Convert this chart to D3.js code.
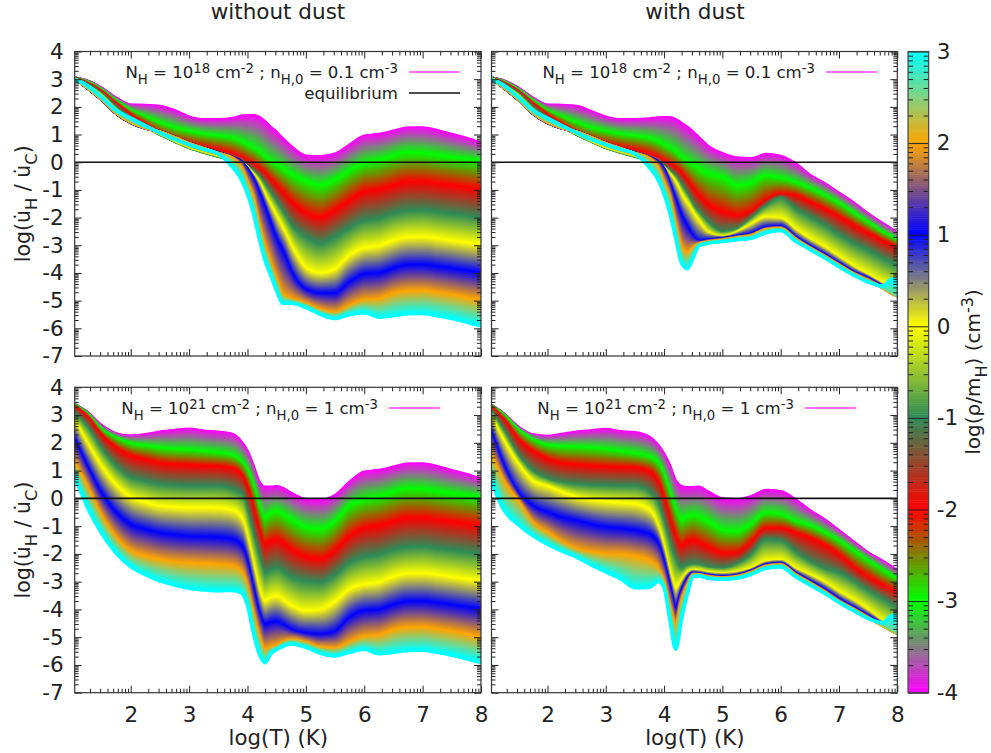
<!DOCTYPE html>
<html>
<head>
<meta charset="utf-8">
<style>
  body { margin: 0; background: #fff; }
  text { font-family: "DejaVu Sans", sans-serif; fill: #222; }
</style>
</head>
<body>
<script src="https://d3js.org/d3.v7.min.js"></script>
<script>
const logT = [1.04,1.25,1.5,1.75,2,2.25,2.5,2.75,3,3.25,3.5,3.75,3.9,4,4.1,4.2,4.3,4.4,4.5,4.6,4.75,5,5.25,5.5,5.75,6,6.25,6.5,6.75,7,7.25,7.5,7.75,7.9,8];

// density levels of the palette and the colour at each one
const rhoLevels = [-4,-3,-2,-1,0,1,2,3];
const rhoColors = ['#ff00ff','#00ff00','#ff0000','#2e8b57','#ffff00','#0000ff','#ffa500','#00ffff'];
// dust panels have one more row, for the wedge at the hot end
const rhoLevelsDust = [-4,-3,-2,-1,0,1,2,2.6,3];

// one row per density level, top row is log rho = -4
const noDust18 = [
  [3.05,2.95,2.69,2.33,2.08,2.07,2.03,1.88,1.65,1.55,1.55,1.6,1.68,1.7,1.7,1.64,1.48,1.28,1.1,.88,.58,.24,.22,.31,.64,.96,1.02,1.14,1.26,1.26,1.16,1.02,.88,.78,.72],
  [3.05,2.9,2.6,2.2,1.85,1.62,1.4,1.22,1.1,1.0,.93,.85,.72,.6,.5,.35,.15,0,-.12,-.25,-.45,-.7,-.85,-.65,-.32,-.06,.05,.22,.34,.32,.24,.16,.09,.05,.02],
  [3.03,2.85,2.55,2.1,1.7,1.35,1.02,.8,.65,.52,.42,.28,.15,.02,-.1,-.25,-.42,-.65,-.88,-1.1,-1.45,-1.85,-2.0,-1.75,-1.4,-1.08,-1.0,-.85,-.72,-.72,-.78,-.85,-.92,-.97,-1.0],
  [3.02,2.8,2.45,1.95,1.55,1.28,1.0,.75,.52,.35,.2,.08,-.02,-.18,-.35,-.55,-.85,-1.15,-1.48,-1.8,-2.3,-2.72,-2.95,-2.72,-2.4,-2.13,-2.05,-1.87,-1.77,-1.75,-1.82,-1.88,-1.95,-2.0,-2.02],
  [3.02,2.75,2.38,1.85,1.48,1.25,1.05,.8,.58,.42,.28,.12,0,-.2,-.45,-.75,-1.2,-1.6,-2.0,-2.4,-3.05,-3.85,-4.03,-3.9,-3.4,-3.12,-3.05,-2.85,-2.73,-2.72,-2.78,-2.85,-2.93,-2.97,-3.0],
  [3.02,2.68,2.25,1.75,1.42,1.22,1.12,.92,.7,.52,.35,.18,.02,-.25,-.6,-1.1,-1.65,-2.25,-2.8,-3.2,-3.98,-4.62,-4.75,-4.75,-4.35,-4.06,-4.02,-3.85,-3.72,-3.72,-3.78,-3.85,-3.93,-3.97,-4.0],
  [3.02,2.7,2.28,1.78,1.45,1.24,1.1,.9,.68,.5,.32,.14,-.2,-.75,-1.3,-2.3,-3.1,-3.7,-4.3,-4.8,-4.95,-5.12,-5.35,-5.45,-5.2,-5.0,-4.95,-4.75,-4.66,-4.65,-4.72,-4.8,-4.9,-4.96,-5.0],
  [3.0,2.78,2.36,1.88,1.6,1.33,1.06,.82,.63,.46,.3,-.2,-.65,-1.15,-1.85,-2.75,-3.55,-4.1,-4.65,-5.1,-5.1,-5.25,-5.5,-5.65,-5.5,-5.44,-5.6,-5.55,-5.48,-5.47,-5.55,-5.65,-5.78,-5.87,-5.92]
];

const dust18 = [
  [3.05,2.95,2.69,2.33,2.08,2.07,2.03,1.85,1.65,1.55,1.55,1.58,1.62,1.63,1.63,1.56,1.42,1.28,1.1,.9,.6,.33,.17,.15,.3,.23,-.03,-.45,-.75,-1.1,-1.45,-1.85,-2.2,-2.4,-2.55],
  [3.05,2.9,2.6,2.2,1.85,1.62,1.4,1.22,1.1,1.0,.93,.85,.72,.6,.5,.35,.15,0,-.12,-.25,-.4,-.55,-.85,-.75,-.5,-.6,-.75,-.95,-1.2,-1.5,-1.85,-2.2,-2.55,-2.72,-2.85],
  [3.03,2.85,2.55,2.1,1.7,1.35,1.02,.8,.65,.52,.42,.28,.15,.02,-.1,-.25,-.42,-.7,-1.0,-1.25,-1.55,-1.8,-1.95,-1.8,-1.4,-1.18,-1.23,-1.47,-1.71,-2.0,-2.3,-2.58,-2.85,-3.0,-3.1],
  [3.02,2.8,2.45,1.95,1.55,1.28,1.0,.75,.52,.35,.2,.08,-.02,-.18,-.35,-.55,-.87,-1.22,-1.6,-1.85,-2.2,-2.55,-2.45,-2.05,-1.6,-1.3,-1.7,-2.0,-2.3,-2.65,-2.95,-3.2,-3.5,-3.65,-3.76],
  [3.02,2.75,2.38,1.85,1.48,1.25,1.05,.8,.58,.42,.28,.12,0,-.2,-.45,-.75,-1.2,-1.5,-1.85,-2.15,-2.55,-2.7,-2.55,-2.25,-2.0,-2.05,-2.45,-2.8,-3.1,-3.45,-3.8,-4.1,-4.4,-4.58,-4.72],
  [3.02,2.68,2.25,1.75,1.42,1.22,1.12,.92,.7,.52,.35,.18,.02,-.25,-.8,-1.4,-1.95,-2.35,-2.7,-2.87,-2.82,-2.76,-2.68,-2.6,-2.38,-2.33,-2.72,-3.05,-3.35,-3.67,-3.98,-4.2,-4.5,-4.68,-4.8],
  [3.02,2.7,2.28,1.78,1.45,1.24,1.1,.9,.68,.5,.32,.14,-.2,-.75,-1.3,-2.3,-3.1,-3.28,-3.1,-2.95,-2.88,-2.82,-2.73,-2.65,-2.43,-2.4,-2.77,-3.1,-3.4,-3.72,-4.03,-4.28,-4.55,-4.75,-4.85],
  [3.01,2.75,2.33,1.84,1.54,1.29,1.08,.85,.65,.48,.31,-.06,-.47,-.99,-1.63,-2.57,-3.43,-3.62,-3.31,-2.99,-2.91,-2.85,-2.77,-2.71,-2.5,-2.44,-2.82,-3.13,-3.43,-3.76,-4.06,-4.31,-4.52,-4.68,-4.82],
  [3.0,2.78,2.36,1.88,1.6,1.33,1.06,.82,.63,.46,.3,-.2,-.65,-1.15,-1.85,-2.75,-3.65,-3.85,-3.45,-3.02,-2.93,-2.87,-2.8,-2.75,-2.55,-2.47,-2.85,-3.15,-3.45,-3.78,-4.08,-4.33,-4.47,-4.22,-4.2]
];

const noDust21 = [
  [3.39,3.12,2.64,2.34,2.26,2.31,2.4,2.46,2.51,2.44,2.4,2.31,2.04,1.72,1.2,.62,.42,.42,.44,.38,.2,-.03,-.06,.12,.6,.96,1.02,1.14,1.26,1.26,1.16,1.02,.88,.78,.72],
  [3.37,3.05,2.46,2.16,1.96,1.88,1.8,1.75,1.72,1.68,1.62,1.52,1.3,.96,.42,-.3,-.72,-.55,-.48,-.58,-.78,-1.05,-1.12,-.85,-.28,-.06,.05,.22,.34,.32,.24,.16,.09,.05,.02],
  [3.3,2.94,2.25,1.8,1.52,1.38,1.25,1.2,1.18,1.15,1.13,1.05,.8,.35,-.4,-1.2,-1.68,-1.55,-1.5,-1.62,-1.85,-2.12,-2.2,-1.9,-1.38,-1.08,-1.0,-.85,-.72,-.72,-.78,-.85,-.92,-.97,-1.0],
  [3.05,2.55,1.75,1.12,.72,.6,.48,.44,.42,.42,.42,.3,.14,-.55,-1.4,-2.15,-2.7,-2.6,-2.52,-2.65,-2.85,-3.0,-3.05,-2.78,-2.35,-2.13,-2.05,-1.87,-1.77,-1.75,-1.82,-1.88,-1.95,-2.0,-2.02],
  [2.75,1.98,1.1,.45,.02,-.17,-.3,-.34,-.36,-.36,-.37,-.45,-.75,-1.5,-2.45,-3.35,-3.72,-3.6,-3.55,-3.68,-3.88,-4.08,-4.03,-3.75,-3.3,-3.12,-3.05,-2.85,-2.73,-2.72,-2.78,-2.85,-2.93,-2.97,-3.0],
  [2.1,1.14,.15,-.54,-.96,-1.13,-1.26,-1.33,-1.38,-1.4,-1.42,-1.5,-1.72,-2.35,-3.3,-4.15,-4.55,-4.48,-4.45,-4.55,-4.75,-4.88,-4.92,-4.82,-4.3,-4.06,-4.02,-3.85,-3.72,-3.72,-3.78,-3.85,-3.93,-3.97,-4.0],
  [1.26,.42,-.66,-1.44,-1.92,-2.1,-2.22,-2.3,-2.34,-2.37,-2.4,-2.46,-2.66,-3.25,-4.2,-5.0,-5.46,-5.38,-5.32,-5.2,-5.1,-5.2,-5.38,-5.42,-5.2,-5.0,-4.95,-4.75,-4.66,-4.65,-4.72,-4.8,-4.9,-4.96,-5.0],
  [.78,-.3,-1.26,-1.98,-2.46,-2.75,-2.97,-3.12,-3.24,-3.3,-3.33,-3.32,-3.42,-3.85,-4.85,-5.6,-5.92,-5.6,-5.45,-5.34,-5.25,-5.37,-5.58,-5.68,-5.55,-5.44,-5.6,-5.55,-5.48,-5.47,-5.55,-5.65,-5.78,-5.87,-5.92]
];

const dust21 = [
  [3.36,3.06,2.58,2.3,2.25,2.32,2.4,2.45,2.5,2.42,2.38,2.22,1.92,1.62,1.2,.65,.44,.4,.41,.42,.25,0,-.03,.08,.3,.26,-.03,-.42,-.75,-1.15,-1.55,-1.95,-2.25,-2.45,-2.59],
  [3.34,3.0,2.46,2.1,1.9,1.85,1.83,1.8,1.75,1.68,1.6,1.47,1.25,.78,.15,-.45,-.78,-.68,-.62,-.68,-.84,-1.15,-1.2,-.95,-.55,-.6,-.85,-1.0,-1.25,-1.55,-1.9,-2.25,-2.6,-2.8,-2.9],
  [3.28,2.82,2.1,1.68,1.4,1.25,1.2,1.15,1.12,1.1,1.08,.95,.55,-.06,-.8,-1.42,-1.74,-1.58,-1.52,-1.62,-1.78,-2.0,-2.0,-1.6,-1.1,-1.1,-1.25,-1.45,-1.7,-2.05,-2.5,-2.85,-3.15,-3.3,-3.43],
  [3.1,2.4,1.5,.95,.68,.55,.48,.45,.44,.42,.42,.2,-.25,-.96,-1.7,-2.25,-2.52,-2.45,-2.4,-2.42,-2.5,-2.55,-2.4,-2.05,-1.5,-1.55,-1.95,-2.3,-2.55,-2.7,-3.0,-3.35,-3.65,-3.85,-3.97],
  [2.9,2.05,1.2,.6,.42,.2,.02,-.08,-.14,-.18,-.22,-.45,-1.1,-1.85,-2.75,-3.25,-3.0,-2.7,-2.6,-2.62,-2.68,-2.72,-2.68,-2.55,-2.3,-2.25,-2.55,-2.78,-3.05,-3.4,-3.7,-4.05,-4.45,-4.62,-4.75],
  [2.35,1.15,.15,-.3,-.52,-.7,-.82,-.95,-1.05,-1.1,-1.17,-1.3,-1.65,-2.35,-3.2,-3.96,-3.35,-2.9,-2.7,-2.72,-2.78,-2.83,-2.78,-2.62,-2.4,-2.35,-2.7,-3.0,-3.3,-3.65,-3.95,-4.25,-4.55,-4.7,-4.8],
  [1.55,.6,-.1,-.9,-1.25,-1.6,-1.85,-1.95,-2.02,-2.03,-2.1,-2.25,-2.55,-3.05,-3.95,-4.56,-3.7,-3.15,-2.75,-2.75,-2.82,-2.87,-2.82,-2.67,-2.45,-2.4,-2.75,-3.05,-3.37,-3.72,-4.0,-4.3,-4.6,-4.78,-4.88],
  [.98,-.01,-.61,-1.17,-1.49,-1.78,-2.01,-2.22,-2.4,-2.55,-2.77,-2.82,-2.82,-3.15,-4.22,-5.1,-4.09,-3.33,-2.79,-2.78,-2.86,-2.9,-2.86,-2.71,-2.49,-2.44,-2.79,-3.09,-3.4,-3.74,-4.03,-4.32,-4.53,-4.7,-4.84],
  [.6,-.42,-.95,-1.35,-1.65,-1.9,-2.12,-2.4,-2.65,-2.9,-3.22,-3.2,-3.0,-3.22,-4.4,-5.44,-4.35,-3.45,-2.82,-2.8,-2.88,-2.92,-2.88,-2.73,-2.52,-2.47,-2.82,-3.12,-3.42,-3.75,-4.05,-4.33,-4.47,-4.22,-4.2]
];

// tick labels
const xMajor = [2,3,4,5,6,7,8];
const yMajor = [-7,-6,-5,-4,-3,-2,-1,0,1,2,3,4];
const barMajor = [-4,-3,-2,-1,0,1,2,3];

const svg = d3.select('body').append('svg')
  .attr('width', 991)
  .attr('height', 753);

const color = d3.scaleLinear()
  .domain(rhoLevels)
  .range(rhoColors)
  .interpolate(d3.interpolateRgb);

// minor ticks of a log-scaled axis, gnuplot style
function minorTicks(domain) {
  const out = [];
  for (let n = Math.floor(domain[0]) - 1; n < domain[1]; n++) {
    for (let k = 2; k < 10; k++) {
      const v = n + Math.log10(k);
      if (v > domain[0] && v < domain[1]) out.push(v);
    }
  }
  return out;
}

function styleAxis(g) {
  g.select('.domain').remove();
  g.selectAll('.tick line').attr('stroke', '#222').attr('stroke-width', 1);
  g.selectAll('.tick text').attr('font-size', 21.5).attr('fill', '#222');
}

// text with sub and superscripts: parts are [string, shift]
function richText(g, x, y, anchor, size, parts) {
  const t = g.append('text')
    .attr('x', x).attr('y', y)
    .attr('text-anchor', anchor)
    .attr('font-size', size);
  let prev = 0;
  parts.forEach(p => {
    const shift = p[1] || 0;
    t.append('tspan')
      .attr('dy', ((prev - shift) * 0.33 * size).toFixed(1))
      .attr('font-size', shift ? size * 0.8 : size)
      .text(p[0]);
    prev = shift;
  });
  return t;
}

const legend18 = [['N'],['H',-1],[' = 10'],['18',1],[' cm'],['-2',1],[' ; n'],['H,0',-1],[' = 0.1 cm'],['-3',1]];
const legend21 = [['N'],['H',-1],[' = 10'],['21',1],[' cm'],['-2',1],[' ; n'],['H,0',-1],[' = 1 cm'],['-3',1]];

function drawPanel(opts) {
  const x = d3.scaleLinear().domain([1.04, 8]).range(opts.xr);
  const y = d3.scaleLinear().domain([-7, 4]).range(opts.yr);
  const g = svg.append('g');
  const id = 'clip' + opts.name;

  svg.append('clipPath').attr('id', id).append('rect')
    .attr('x', opts.xr[0]).attr('y', opts.yr[1])
    .attr('width', opts.xr[1] - opts.xr[0])
    .attr('height', opts.yr[0] - opts.yr[1]);

  const line = d3.line()
    .x((d, i) => x(logT[i]))
    .y(d => y(d))
    .curve(d3.curveMonotoneX);

  // the gnuplot figure has a dense family of lines; between two read curves
  // the colour is shaded with thin lines, painted from low to high density
  const curves = g.append('g').attr('clip-path', `url(#${id})`).attr('fill', 'none');
  const levels = opts.levels;
  for (let l = 0; l < levels.length - 1; l++) {
    const steps = Math.ceil(26 * (levels[l + 1] - levels[l]));
    for (let s = 0; s < steps; s++) {
      const t = s / steps;
      curves.append('path')
        .datum(opts.rows[l].map((v, i) => v + (opts.rows[l + 1][i] - v) * t))
        .attr('d', line)
        .attr('stroke', color(levels[l] + t * (levels[l + 1] - levels[l])))
        .attr('stroke-width', 2.4)
        .attr('stroke-linejoin', 'round');
    }
  }
  curves.append('path')
    .datum(opts.rows[levels.length - 1])
    .attr('d', line)
    .attr('stroke', color(3))
    .attr('stroke-width', 3.4);

  // equilibrium line
  g.append('line')
    .attr('x1', opts.xr[0]).attr('x2', opts.xr[1])
    .attr('y1', y(0)).attr('y2', y(0))
    .attr('stroke', '#111').attr('stroke-width', 1.6);

  // axes, ticks on all four sides
  const bottomY = opts.yr[0], topY = opts.yr[1];
  const xMinor = minorTicks(x.domain());
  const yMinor = minorTicks(y.domain());

  g.append('g').attr('transform', `translate(0,${bottomY})`)
    .call(d3.axisBottom(x).tickValues(xMajor).tickSize(-7).tickPadding(14)
      .tickFormat(d => opts.xLabels ? String(d) : ''))
    .call(styleAxis);
  g.append('g').attr('transform', `translate(0,${topY})`)
    .call(d3.axisTop(x).tickValues(xMajor).tickSize(-7).tickFormat(''))
    .call(styleAxis);
  g.append('g').attr('transform', `translate(0,${bottomY})`)
    .call(d3.axisBottom(x).tickValues(xMinor).tickSize(-4).tickFormat(''))
    .call(styleAxis);
  g.append('g').attr('transform', `translate(0,${topY})`)
    .call(d3.axisTop(x).tickValues(xMinor).tickSize(-4).tickFormat(''))
    .call(styleAxis);

  g.append('g').attr('transform', `translate(${opts.xr[0]},0)`)
    .call(d3.axisLeft(y).tickValues(yMajor).tickSize(-7).tickPadding(11)
      .tickFormat(d => opts.yLabels ? String(d) : ''))
    .call(styleAxis);
  g.append('g').attr('transform', `translate(${opts.xr[1]},0)`)
    .call(d3.axisRight(y).tickValues(yMajor).tickSize(-7).tickFormat(''))
    .call(styleAxis);
  g.append('g').attr('transform', `translate(${opts.xr[0]},0)`)
    .call(d3.axisLeft(y).tickValues(yMinor).tickSize(-4).tickFormat(''))
    .call(styleAxis);
  g.append('g').attr('transform', `translate(${opts.xr[1]},0)`)
    .call(d3.axisRight(y).tickValues(yMinor).tickSize(-4).tickFormat(''))
    .call(styleAxis);

  g.append('rect')
    .attr('x', opts.xr[0]).attr('y', opts.yr[1])
    .attr('width', opts.xr[1] - opts.xr[0])
    .attr('height', opts.yr[0] - opts.yr[1])
    .attr('fill', 'none').attr('stroke', '#333').attr('stroke-width', 1.2);

  // key
  richText(g, opts.keyX, opts.keyY + 6, 'end', 16.6, opts.key);
  g.append('line')
    .attr('x1', opts.keyX + 11).attr('x2', opts.keyX + 62)
    .attr('y1', opts.keyY).attr('y2', opts.keyY)
    .attr('stroke', '#ff40ff').attr('stroke-width', 1.5);
  if (opts.showEq) {
    richText(g, opts.keyX, opts.keyY + 27, 'end', 16.6, [['equilibrium']]);
    g.append('line')
      .attr('x1', opts.keyX + 11).attr('x2', opts.keyX + 62)
      .attr('y1', opts.keyY + 21).attr('y2', opts.keyY + 21)
      .attr('stroke', '#111').attr('stroke-width', 1.5);
  }

  if (opts.yLabels) {
    const cy = (opts.yr[0] + opts.yr[1]) / 2;
    const lab = g.append('g').attr('transform', `translate(30,${cy}) rotate(-90)`);
    richText(lab, 0, 0, 'middle', 20.5, [['log(u\u0307'],['H',-1],[' / u\u0307'],['C',-1],[')']]);
  }
  if (opts.xLabels) {
    g.append('text')
      .attr('x', (opts.xr[0] + opts.xr[1]) / 2 + 0.5).attr('y', 745)
      .attr('text-anchor', 'middle').attr('font-size', 21.3)
      .text('log(T) (K)');
  }
}

const leftX = [74.7, 481], rightX = [491.5, 897.3];
const topY = [356, 51.5], botY = [692.7, 387.3];

drawPanel({ name: 'a', rows: noDust18, levels: rhoLevels, xr: leftX, yr: topY, yLabels: true, xLabels: false, key: legend18, keyX: 398, keyY: 72, showEq: true });
drawPanel({ name: 'b', rows: dust18, levels: rhoLevelsDust, xr: rightX, yr: topY, yLabels: false, xLabels: false, key: legend18, keyX: 815, keyY: 72, showEq: false });
drawPanel({ name: 'c', rows: noDust21, levels: rhoLevels, xr: leftX, yr: botY, yLabels: true, xLabels: true, key: legend21, keyX: 378, keyY: 408, showEq: false });
drawPanel({ name: 'd', rows: dust21, levels: rhoLevelsDust, xr: rightX, yr: botY, yLabels: false, xLabels: true, key: legend21, keyX: 794, keyY: 408, showEq: false });

// column titles
svg.append('text').attr('x', 278).attr('y', 19).attr('text-anchor', 'middle').attr('font-size', 21.5).text('without dust');
svg.append('text').attr('x', 695).attr('y', 19).attr('text-anchor', 'middle').attr('font-size', 21.5).text('with dust');

// colour bar
const barX = [908, 928.7];
const barScale = d3.scaleLinear().domain([-4, 3]).range([692.7, 51.5]);
const barSteps = d3.range(-4, 3, 0.02);
const bar = svg.append('g');
bar.selectAll('rect')
  .data(barSteps)
  .join('rect')
  .attr('x', barX[0])
  .attr('width', barX[1] - barX[0])
  .attr('y', d => barScale(d + 0.02))
  .attr('height', d => barScale(d) - barScale(d + 0.02) + 0.5)
  .attr('fill', d => color(d));

const barMinor = minorTicks(barScale.domain());
bar.append('g').attr('transform', `translate(${barX[1]},0)`)
  .call(d3.axisRight(barScale).tickValues(barMajor).tickSize(-(barX[1] - barX[0])).tickPadding(8).tickFormat(d => String(d)))
  .call(styleAxis)
  .selectAll('.tick text').attr('x', 8);
bar.append('g').attr('transform', `translate(${barX[1]},0)`)
  .call(d3.axisRight(barScale).tickValues(barMinor).tickSize(-5).tickFormat(''))
  .call(styleAxis);
bar.append('g').attr('transform', `translate(${barX[0]},0)`)
  .call(d3.axisLeft(barScale).tickValues(barMinor).tickSize(-5).tickFormat(''))
  .call(styleAxis);
bar.append('rect')
  .attr('x', barX[0]).attr('y', 51.5)
  .attr('width', barX[1] - barX[0]).attr('height', 692.7 - 51.5)
  .attr('fill', 'none').attr('stroke', '#444').attr('stroke-width', 1.2);

const barLab = svg.append('g').attr('transform', 'translate(980,372) rotate(-90)');
richText(barLab, 0, 0, 'middle', 20, [['log(\u03c1/m'],['H',-1],[') (cm'],['-3',1],[')']]);
</script>
</body>
</html>
